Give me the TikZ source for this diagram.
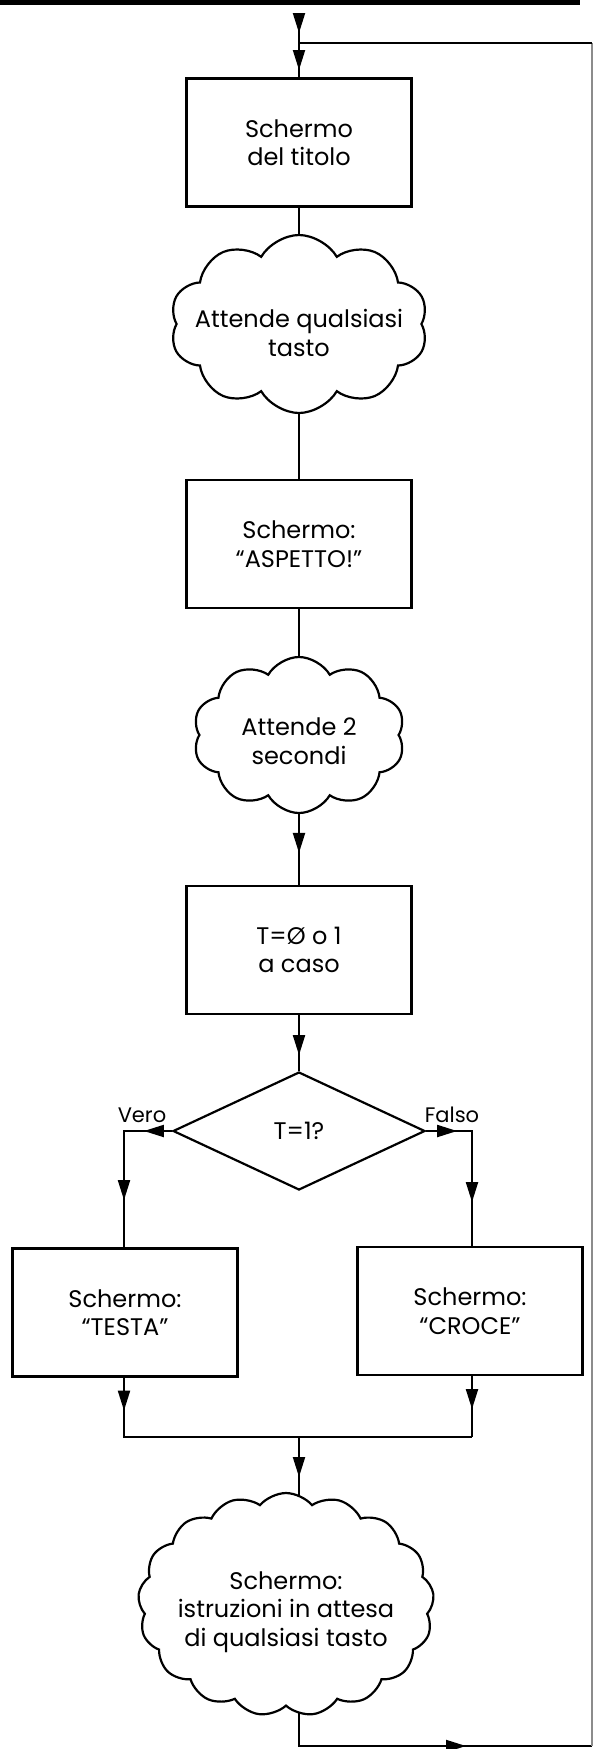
\documentclass[tikz,border=0pt]{standalone}
\usepackage{fontspec}
\setmainfont{Poppins}
\usetikzlibrary{shapes.geometric,shapes.symbols,arrows.meta,decorations.markings}
\pgfdeclarelayer{bg}
\pgfsetlayers{bg,main}
\newcommand\fsmain{\fontsize{24}{28.5}\selectfont}
\newcommand\fslbl{\fontsize{21}{25}\selectfont}
\tikzset{
  box/.style={draw, line width=2.2pt, minimum width=225pt, minimum height=128pt, align=center, inner sep=0pt, font=\fsmain},
  cloudbox/.style={cloud, draw, fill=white, line width=2.2pt, cloud ignores aspect, inner sep=0pt},
  txt/.style={align=center, font=\fsmain, inner sep=0pt},
  lbl/.style={font=\fslbl, inner sep=0pt},
  decision/.style={diamond, draw, line width=2.2pt, minimum width=252pt, minimum height=118pt, inner sep=0pt, font=\fsmain},
  conn/.style={line width=2pt},
  tipshape/.tip={Triangle[length=20pt,width=12pt]},
  arrowat/.style={decoration={markings, mark=at position #1 with {\arrow{tipshape}}}, postaction={decorate}},
  arrowsat/.style 2 args={decoration={markings, mark=at position #1 with {\arrow{tipshape}}, mark=at position #2 with {\arrow{tipshape}}}, postaction={decorate}},
}
\begin{document}
\begin{tikzpicture}[x=1pt,y=-1pt]
\useasboundingbox (0,0) rectangle (594,1749);
\fill (0,0) rectangle (580,5);
% coordinates
\coordinate (start) at (299,13);
\coordinate (J) at (299,43);
\coordinate (T2) at (592,43);
\coordinate (L) at (124,1131);
\coordinate (R) at (472,1131);
\coordinate (ML) at (124,1437);
\coordinate (MR) at (472,1437);
\coordinate (M) at (299,1437);
\coordinate (B1) at (299,1746);
\coordinate (B2) at (592,1746);
% nodes
\node[box] (b1) at (299,142.5) {Schermo\\del titolo};
\node[cloudbox, cloud puffs=10, cloud puff arc=120, minimum width=258pt, minimum height=178pt] (c1) at (299,324) {};
\node[txt] (c1t) at (299,333) {Attende qualsiasi\\tasto};
\node[box] (b2) at (299,544) {Schermo:\\“ASPETTO!”};
\node[cloudbox, cloud puffs=10, cloud puff arc=120, minimum width=212pt, minimum height=156pt] (c2) at (299,735) {};
\node[txt] (c2t) at (299,741) {Attende 2\\secondi};
\node[box] (b3) at (299,950) {T=Ø o 1\\a caso};
\node[decision] (d) at (299,1131) {T=1?};
\node[lbl, anchor=base] (lv) at (142,1122) {Vero};
\node[lbl, anchor=base] (lf) at (452,1122) {Falso};
\node[box] (bt) at (125,1312.5) {Schermo:\\“TESTA”};
\node[box] (bc) at (470,1311) {Schermo:\\“CROCE”};
\node[cloudbox, cloud puffs=17, cloud puff arc=100, minimum width=296pt, minimum height=223pt] (c3) at (286,1604.5) {};
\node[txt] (c3t) at (286,1612) {Schermo:\\istruzioni in attesa\\di qualsiasi tasto};
% connectors
\begin{pgfonlayer}{bg}
\draw[conn, arrowat=20pt] (start) -- (J);
\draw[conn, arrowat=27pt] (J) -- (b1.north);
\draw[conn] (b1.south) -- (c1.center);
\draw[conn] (c1.center) -- (b2.north);
\draw[conn] (b2.south) -- (c2.center);
\draw[conn, arrowat=-32pt] (c2.center) -- (b3.north);
\draw[conn, arrowat=40pt] (b3.south) -- (d.north);
\draw[conn, arrowsat={28pt}{117pt}] (d.west) -- (L) -- (L |- bt.north);
\draw[conn, arrowsat={31pt}{117pt}] (d.east) -- (R) -- (R |- bc.north);
\draw[conn, arrowat=33pt] (L |- bt.south) -- (ML) -- (MR);
\draw[conn, arrowat=33pt] (R |- bc.south) -- (MR);
\draw[conn, arrowat=40pt] (M) -- (M |- c3.center);
\draw[conn, arrowat=-126pt] (M |- c3.center) -- (B1) -- (B2);
\draw[line width=1.5pt, black!45] (B2) -- (T2);
\draw[conn] (T2) -- (J);
\end{pgfonlayer}
\end{tikzpicture}
\end{document}
